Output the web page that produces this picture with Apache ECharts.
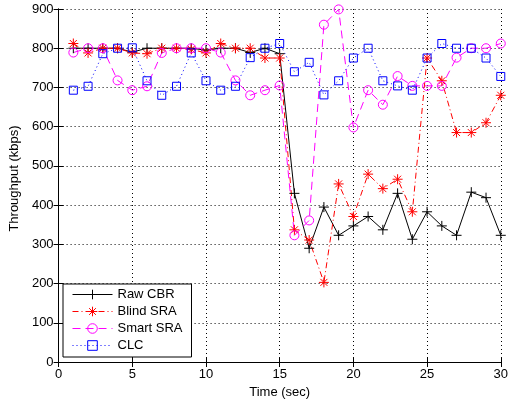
<!DOCTYPE html>
<html>
<head>
<meta charset="utf-8">
<script src="https://cdn.jsdelivr.net/npm/echarts@6/dist/echarts.min.js"></script>
<style>html,body{margin:0;padding:0;background:#fff}#c{width:511px;height:404px}</style>
</head>
<body>
<div id="c"></div>
<script>
var time = [1,2,3,4,5,6,7,8,9,10,11,12,13,14,15,16,17,18,19,20,21,22,23,24,25,26,27,28,29,30];
var rawCBR = [800,800,800,800,790,800,800,800,800,795,800,800,789,800,786,430,290,395,323,347,371,337,430,313,383,347,323,433,419,323];
var blindSRA = [812,788,800,800,788,786,800,800,797,788,812,800,800,775,775,337,311,203,454,371,479,442,466,383,775,717,585,585,610,680];
var smartSRA = [789,800,800,718,693,703,788,800,800,800,789,718,680,693,705,323,361,860,899,598,693,656,729,704,704,704,776,800,800,812];
var clc = [693,703,786,800,801,717,680,703,788,717,693,703,776,800,812,740,764,681,717,775,800,717,704,693,775,812,800,800,775,728];
var xTicks = [0,5,10,15,20,25,30];
var yTicks = [0,100,200,300,400,500,600,700,800,900];

var font = 'Liberation Sans, Arial, Helvetica, sans-serif';
var plusPath = 'path://M0,-5L0,5M-5,0L5,0';
var starPath = 'path://M0,-5L0,5M-5,0L5,0M-3.5,-3.5L3.5,3.5M-3.5,3.5L3.5,-3.5';
function pairs(arr){return arr.map(function(v,i){return [time[i],v];});}

var chart = echarts.init(document.getElementById('c'), null, {renderer:'canvas'});
var axisLine = {show:true, lineStyle:{color:'#000', width:1}};
var option = {
  animation:false,
  backgroundColor:'#fff',
  grid:{left:56, right:7, top:9, bottom:42, containLabel:false},
  xAxis:[{
    type:'value', min:xTicks[0], max:xTicks[xTicks.length-1], interval:xTicks[1]-xTicks[0],
    name:'Time (sec)', nameLocation:'middle', nameGap:19,
    nameTextStyle:{color:'#000', fontFamily:font, fontSize:13},
    axisLine:axisLine,
    axisTick:{show:true, inside:true, length:5, lineStyle:{color:'#000'}},
    axisLabel:{color:'#000', fontFamily:font, fontSize:13, margin:6},
    splitLine:{show:true, lineStyle:{color:'#000', width:1, type:[1,3]}}
  },{
    type:'value', min:xTicks[0], max:xTicks[xTicks.length-1], interval:xTicks[1]-xTicks[0], position:'top',
    axisLine:axisLine,
    axisTick:{show:true, inside:true, length:5, lineStyle:{color:'#000'}},
    axisLabel:{show:false}, splitLine:{show:false}
  }],
  yAxis:[{
    type:'value', min:yTicks[0], max:yTicks[yTicks.length-1], interval:yTicks[1]-yTicks[0],
    name:'Throughput (kbps)', nameLocation:'middle', nameGap:32, nameRotate:90,
    nameTextStyle:{color:'#000', fontFamily:font, fontSize:13, padding:[0,0,0,14]},
    axisLine:axisLine,
    axisTick:{show:true, inside:true, length:5, lineStyle:{color:'#000'}},
    axisLabel:{color:'#000', fontFamily:font, fontSize:13, margin:5},
    splitLine:{show:true, lineStyle:{color:'#000', width:1, type:[1,3]}}
  },{
    type:'value', min:yTicks[0], max:yTicks[yTicks.length-1], interval:yTicks[1]-yTicks[0], position:'right',
    axisLine:axisLine,
    axisTick:{show:true, inside:true, length:5, lineStyle:{color:'#000'}},
    axisLabel:{show:false}, splitLine:{show:false}
  }],
  legend:{
    orient:'vertical', left:63, top:284, width:128,
    backgroundColor:'#fff', borderColor:'#000', borderWidth:1,
    padding:[4,9,5,9], itemGap:4, itemWidth:40, itemHeight:12,
    lineStyle:{width:1},
    itemStyle:{borderWidth:1},
    textStyle:{color:'#000', fontFamily:font, fontSize:13},
    data:['Raw CBR','Blind SRA','Smart SRA','CLC']
  },
  series:[{
    name:'Raw CBR', type:'line', data:pairs(rawCBR),
    symbol:plusPath, symbolSize:10,
    lineStyle:{color:'#000', width:1, type:'solid'},
    itemStyle:{color:'rgba(0,0,0,0)', borderColor:'#000', borderWidth:1}
  },{
    name:'Blind SRA', type:'line', data:pairs(blindSRA),
    symbol:starPath, symbolSize:10,
    lineStyle:{color:'#ff0000', width:1, type:[6,3,1,3]},
    itemStyle:{color:'rgba(0,0,0,0)', borderColor:'#ff0000', borderWidth:1}
  },{
    name:'Smart SRA', type:'line', data:pairs(smartSRA),
    symbol:'circle', symbolSize:9,
    lineStyle:{color:'#ff00ff', width:1, type:[8,5]},
    itemStyle:{color:'rgba(0,0,0,0)', borderColor:'#ff00ff', borderWidth:1}
  },{
    name:'CLC', type:'line', data:pairs(clc),
    symbol:'rect', symbolSize:8,
    lineStyle:{color:'#0000ff', width:1, type:[1,3]},
    itemStyle:{color:'rgba(0,0,0,0)', borderColor:'#0000ff', borderWidth:1}
  }]
};
chart.setOption(option);
</script>
</body>
</html>
